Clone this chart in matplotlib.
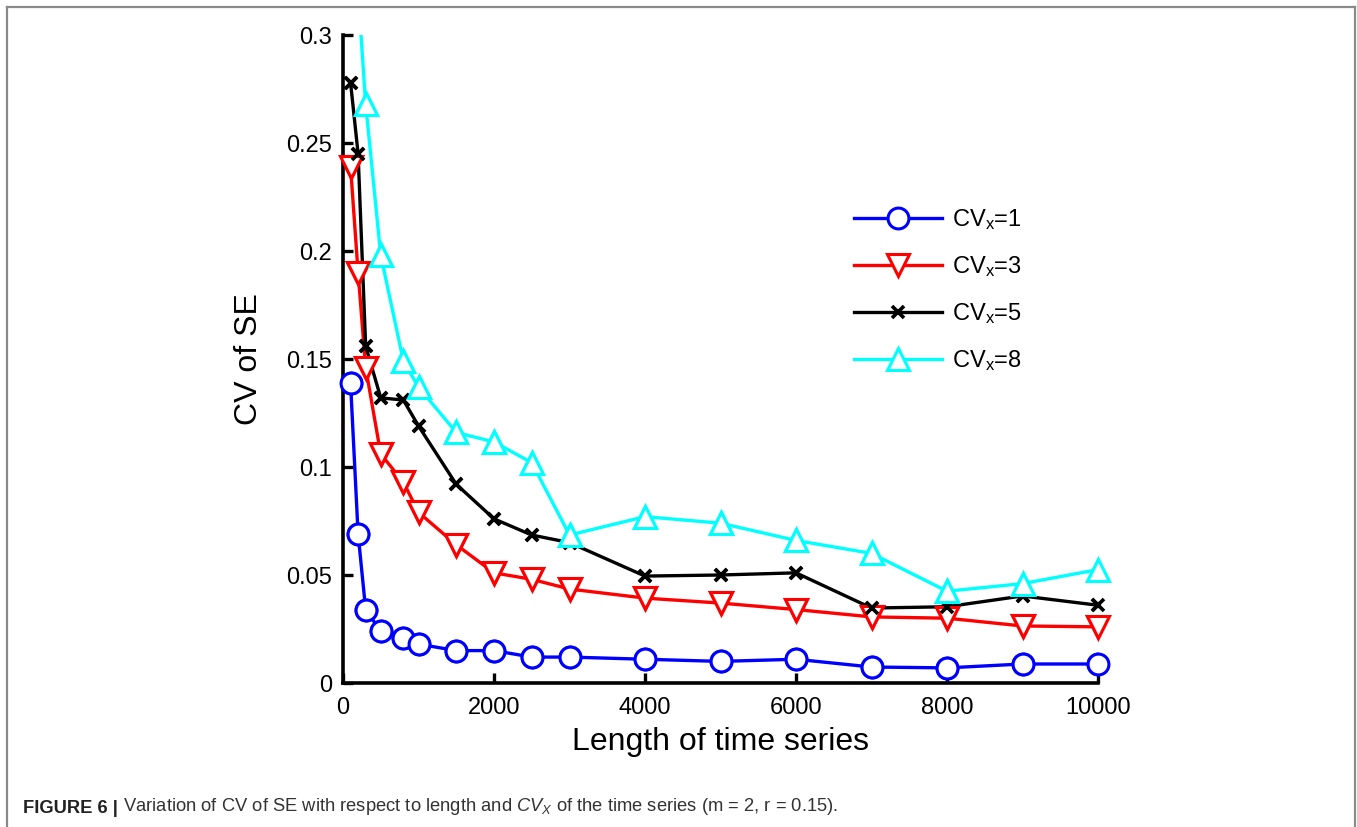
import matplotlib
matplotlib.use("Agg")

import matplotlib.pyplot as plt
from matplotlib.lines import Line2D

plt.rcParams["font.family"] = ["Liberation Sans", "DejaVu Sans"]
plt.rcParams["mathtext.fontset"] = "custom"
plt.rcParams["mathtext.rm"] = "Liberation Sans"
plt.rcParams["mathtext.it"] = "Liberation Sans:italic"
plt.rcParams["mathtext.default"] = "regular"

# -----------------------------
# DATA
# -----------------------------
lengths = [100, 200, 300, 500, 800, 1000, 1500, 2000, 2500, 3000,
           4000, 5000, 6000, 7000, 8000, 9000, 10000]

cv1 = [0.139, 0.069, 0.034, 0.024, 0.021, 0.018, 0.015, 0.015, 0.012, 0.012,
       0.011, 0.010, 0.011, 0.0074, 0.007, 0.0088, 0.0088]
cv3 = [0.239, 0.190, 0.146, 0.106, 0.093, 0.079, 0.064, 0.051, 0.048, 0.0435,
       0.0393, 0.037, 0.034, 0.0306, 0.030, 0.0264, 0.026]
cv5 = [0.278, 0.245, 0.156, 0.132, 0.131, 0.119, 0.092, 0.076, 0.0685, 0.065,
       0.0495, 0.050, 0.051, 0.0347, 0.0353, 0.0403, 0.036]
cv8 = [0.37, 0.32, 0.268, 0.198, 0.149, 0.137, 0.116, 0.1116, 0.102, 0.0685,
       0.077, 0.074, 0.066, 0.060, 0.0425, 0.046, 0.0525]

labels = ["CV$_x$=1", "CV$_x$=3", "CV$_x$=5", "CV$_x$=8"]
x_ticks = [0, 2000, 4000, 6000, 8000, 10000]
y_ticks = [0, 0.05, 0.1, 0.15, 0.2, 0.25, 0.3]
y_tick_labels = ["0", "0.05", "0.1", "0.15", "0.2", "0.25", "0.3"]

# -----------------------------
# FIGURE
# -----------------------------
W, H = 1357, 827
fig = plt.figure(figsize=(W / 100, H / 100), dpi=100)

# outer frame (left, top, right)
frame = dict(color="#8a8a8a", lw=1.6, transform=fig.transFigure)
fig.add_artist(Line2D([7 / W, 7 / W], [0, 1 - 7 / H], **frame))
fig.add_artist(Line2D([7 / W, 1355 / W], [1 - 7 / H, 1 - 7 / H], **frame))
fig.add_artist(Line2D([1355 / W, 1355 / W], [0, 1 - 7 / H], **frame))

ax = fig.add_axes([343 / W, 1 - 683 / H, (1098 - 343) / W, (683 - 35) / H])
ymax = 0.3

series = [
    (cv1, "blue", "o", 15, 2.2, "white"),
    (cv3, "red", "v", 16, 2.2, "white"),
    (cv5, "black", "x", 9, 2.6, None),
    (cv8, "cyan", "^", 16, 2.2, "white"),
]

lw = 2.4
for (vals, col, mk, ms, mew, mfc), lab in zip(series, labels):
    kw = dict(color=col, marker=mk, ms=ms, mew=mew)
    if mfc:
        kw["mfc"] = mfc
    # clipped line (cyan runs off the top)
    ax.plot(lengths, vals, lw=lw, label=lab, **kw)
    # markers inside the y-range drawn unclipped so edge ones show whole
    xs = [x for x, v in zip(lengths, vals) if v <= ymax]
    ys = [v for v in vals if v <= ymax]
    ax.plot(xs, ys, ls="none", clip_on=False, zorder=3, **kw)

ax.set_xlim(0, 10000)
ax.set_ylim(0, ymax)
ax.set_xticks(x_ticks)
ax.set_yticks(y_ticks)
ax.set_yticklabels(y_tick_labels)

for side in ["top", "right"]:
    ax.spines[side].set_visible(False)
for side in ["left", "bottom"]:
    ax.spines[side].set_linewidth(2.6)

ax.tick_params(direction="in", length=7, width=2.4, labelsize=17)
ax.tick_params(axis="x", pad=10)
ax.tick_params(axis="y", pad=8)

ax.set_xlabel("Length of time series", fontsize=23, labelpad=6)
ax.set_ylabel("CV of SE", fontsize=23, labelpad=16)

ax.legend(loc="upper left", bbox_to_anchor=(833 / W, 1 - 186 / H),
          bbox_transform=fig.transFigure, frameon=False, fontsize=17,
          handlelength=3.7, handletextpad=0.45, labelspacing=0.93)

# -----------------------------
# CAPTION
# -----------------------------
bold = fig.text(23 / W, 1 - 813 / H, "FIGURE 6 |", fontsize=13.2,
                fontweight="bold", color="#222222", va="baseline")
ax.annotate(" Variation of CV of SE with respect to length and "
            r"$\mathit{CV}_{\mathit{X}}$"
            " of the time series (m = 2, r = 0.15).",
            xy=(1, 0), xycoords=bold, va="bottom", ha="left",
            fontsize=13.2, color="#333333", annotation_clip=False)

plt.savefig("out.png", dpi=100)
plt.close()
